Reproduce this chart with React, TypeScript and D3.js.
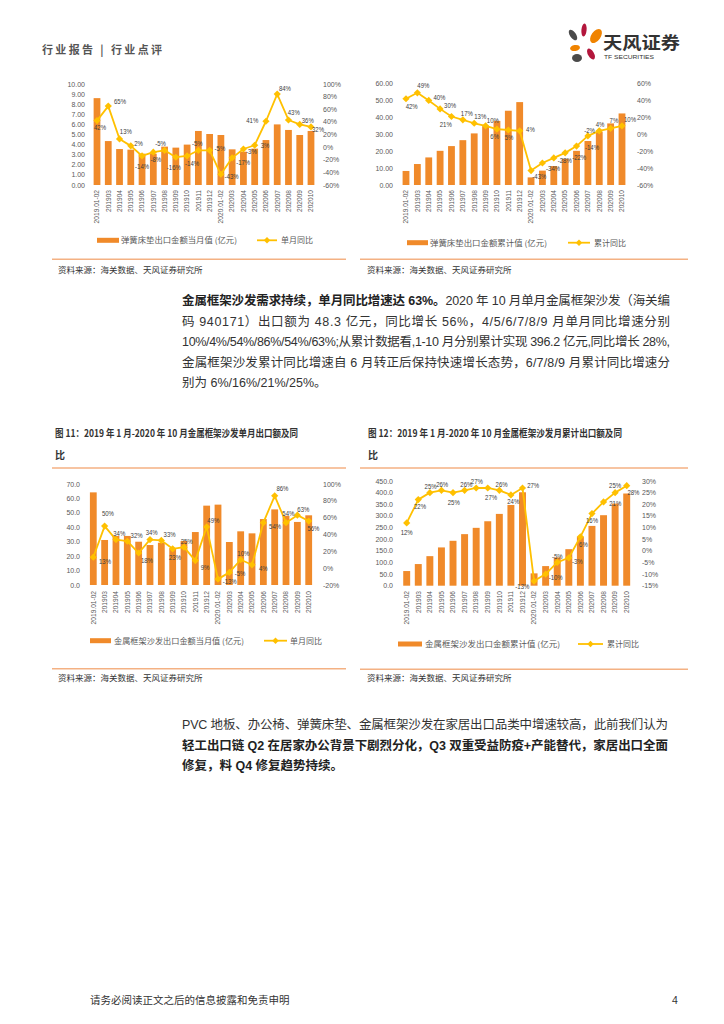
import React from "react";
import * as d3 from "d3";

const LAT = "'Liberation Sans', 'Noto Sans CJK SC', sans-serif";
const CJK = "'Noto Sans CJK SC', 'Liberation Sans', sans-serif";
const BAR = "#F08A2A";
const LINE = "#FFC000";
const SEP = "#F4B183";

// ---------- data ----------
const monthCats = [
  "2019.01-02", "201903", "201904", "201905", "201906", "201907", "201908", "201909", "201910", "201911", "201912",
  "2020.01-02", "202003", "202004", "202005", "202006", "202007", "202008", "202009", "202010",
];

// 弹簧床垫 当月值 (亿元) & 单月同比 (%)
const mattressMonthly = [8.6, 4.35, 3.56, 3.5, 3.1, 3.1, 3.8, 3.7, 4.0, 5.35, 5.05, 4.95, 3.53, 3.3, 3.6, 4.45, 6.0, 5.45, 4.95, 5.35];
const mattressMonthlyYoY = [42, 65, 13, 2, -14, -8, -5, -16, -14, -5, -5, -43, -17, -3, 3, 41, 84, 43, 36, 32];

// 弹簧床垫 累计值 (亿元) & 累计同比 (%)
const mattressCum = [8.3, 12.4, 16.3, 20.2, 23.0, 26.5, 30.5, 34.8, 37.9, 43.9, 49.0, 4.5, 8.5, 11.2, 15.5, 20.2, 26.0, 31.5, 36.4, 42.3];
const mattressCumYoY = [42, 49, 40, 30, 21, 17, 13, 10, 6, 5, 4, -43, -34, -28, -22, -14, -2, 4, 7, 10];

// 金属框架沙发 当月值 (亿元) & 单月同比 (%)
const sofaMonthly = [64.2, 31.2, 34.0, 34.0, 30.0, 27.7, 29.3, 25.4, 30.5, 36.7, 55.0, 55.7, 29.8, 37.2, 35.8, 45.7, 52.4, 48.0, 43.7, 48.3];
const sofaMonthlyYoY = [13, 50, 34, 32, 18, 34, 33, 23, 25, 9, 49, -13, -5, 10, 4, 54, 86, 54, 63, 56];

// 金属框架沙发 累计值 (亿元) & 累计同比 (%)
const sofaCum = [63, 93, 127, 164.5, 193, 221.6, 248.7, 277, 308.6, 347, 401.6, 53, 84.3, 121.5, 157, 210, 257, 303, 353, 396.2];
const sofaCumYoY = [12, 22, 25, 26, 25, 26, 27, 27, 26, 24, 27, -13, -10, -5, -3, 6, 16, 21, 25, 28];

const ticksMattressMonthly = d3.range(0, 10.001, 1);
const ticksMattressMonthlyYoY = d3.range(-60, 100.001, 20);
const ticksMattressCum = d3.range(0, 60.001, 10);
const ticksMattressCumYoY = d3.range(-60, 60.001, 20);
const ticksSofaMonthly = d3.range(0, 70.001, 10);
const ticksSofaMonthlyYoY = d3.range(-20, 100.001, 20);
const ticksSofaCum = d3.range(0, 450.001, 50);
const ticksSofaCumYoY = d3.range(-15, 30.001, 5);

const SOURCE = "资料来源：海关数据、天风证券研究所";

// data-label placement (label centre relative to its marker)
const labOffA: [number, number][] = [[3, 6.5], [11.7, -5], [6.3, -7], [7.7, -2.3], [0, 11], [2.5, 7.5], [-4, -6.7], [-2, 10], [5, 7.5], [-1, -6.5],
  [10.3, -1.7], [10.7, 2.3], [11, 4.3], [8, 2.7], [10.3, 0.7], [-13.7, -1], [7.7, -5.7], [5.3, -7.3], [8, -3.7], [7, 2.7]];
const labOffB: [number, number][] = [[5.7, 7.7], [6, -7.7], [10.7, -3.3], [10, -3.3], [-5.7, 8.3], [4, -6.7], [6, -6.7], [7.3, -5], [-2.3, 7.3], [0.7, 7],
  [10.7, -1.3], [8.3, 6], [10.7, 5], [11, 2.7], [14, 4.3], [15.5, 1.7], [1.7, -5.5], [0.7, -6], [3.3, -7.5], [8, -6]];
const labOffC: [number, number][] = [[11.7, 4.3], [3.3, -12.7], [3.3, -6.5], [9.3, -5.7], [8.3, 7.3], [1.7, -7], [8.3, -6], [2.3, 8.3], [2.7, -6], [9.7, 6.7],
  [6.7, -6.7], [11.7, 2.7], [10.7, 1], [2.7, -6.7], [11.3, 3.3], [11.7, 3.3], [7.7, -7.7], [2.3, -9], [6, -6], [4.7, 7.7]];
const labOffD: [number, number][] = [[0, 9.3], [1.7, 7.3], [0.7, -6], [0.7, -6], [0.7, 9.7], [1.7, -6], [0.7, -6], [3.3, 10], [2.3, -6], [2.3, 7],
  [10.7, -2], [-11.7, 5], [10, 3.3], [0, -6], [8.5, 3.3], [3, 8], [0, 7], [11.7, 1.7], [0, -6.7], [6.7, 6.7]];

// ---------- chart ----------
type Cfg = {
  bars: number[]; line: number[]; off: [number, number][];
  xRange: [number, number]; yRange: [number, number];
  lDom: [number, number]; lTicks: number[]; lFmt: (v: number) => string; lX: number;
  rDom: [number, number]; rTicks: number[]; rX: number;
  xLabTop: number;
  legY: number; legBar: [number, number]; legBarText: string; legBarTextX: [number, number];
  legLine: [number, number]; legLineText: string; legLineTextX: number;
  sepY: number; sepX: [number, number]; srcX: number; srcY: number;
};

function ComboChart({ c }: { c: Cfg }) {
  const x = d3.scalePoint<string>().domain(monthCats).range(c.xRange);
  const step = x.step();
  const bw = step * 0.6;
  const yL = d3.scaleLinear().domain(c.lDom).range(c.yRange);
  const yR = d3.scaleLinear().domain(c.rDom).range(c.yRange);
  const pts: [number, number][] = monthCats.map((k, i) => [x(k) as number, yR(c.line[i])]);
  const path = d3.line()(pts) || "";
  const dia = (r: number) => `M0,${-r}L${r},0L0,${r}L${-r},0Z`;
  return (
    <g>
      {monthCats.map((k, i) => (
        <rect key={"b" + i} x={(x(k) as number) - bw / 2} y={yL(c.bars[i])} width={bw}
          height={yL(c.lDom[0]) - yL(c.bars[i])} fill={BAR} />
      ))}
      <path d={path} fill="none" stroke={LINE} strokeWidth={1.8} strokeLinejoin="round" />
      {pts.map((p, i) => (
        <path key={"m" + i} d={dia(3.6)} transform={`translate(${p[0]},${p[1]})`} fill={LINE} />
      ))}
      {pts.map((p, i) => (
        <text key={"l" + i} transform={`translate(${p[0] + c.off[i][0]},${p[1] + c.off[i][1] + 2.5}) scale(0.86,1)`}
          textAnchor="middle" fontSize={7} fill="#404040" fontFamily={LAT}>
          {c.line[i] + "%"}
        </text>
      ))}
      {c.lTicks.map((t, i) => (
        <text key={"lt" + i} x={c.lX} y={yL(t) + 2.5} textAnchor="end" fontSize={7} fill="#595959" fontFamily={LAT}>
          {c.lFmt(t)}
        </text>
      ))}
      {c.rTicks.map((t, i) => (
        <text key={"rt" + i} x={c.rX} y={yR(t) + 2.5} textAnchor="start" fontSize={7} fill="#595959" fontFamily={LAT}>
          {t + "%"}
        </text>
      ))}
      {monthCats.map((k, i) => (
        <text key={"xl" + i} transform={`translate(${(x(k) as number) + 2.3},${c.xLabTop}) rotate(-90)`}
          textAnchor="end" fontSize={6.6} fill="#595959" fontFamily={LAT}>
          {k}
        </text>
      ))}
      {/* legend */}
      <rect x={c.legBar[0]} y={c.legY - 2.5} width={c.legBar[1] - c.legBar[0]} height={5} fill={BAR} />
      <text x={c.legBarTextX[0]} y={c.legY + 3} fontSize={8} fill="#595959" fontFamily={CJK}
        textLength={c.legBarTextX[1] - c.legBarTextX[0]} lengthAdjust="spacingAndGlyphs">{c.legBarText}</text>
      <line x1={c.legLine[0]} x2={c.legLine[1]} y1={c.legY} y2={c.legY} stroke={LINE} strokeWidth={1.8} />
      <path d={dia(3.2)} transform={`translate(${(c.legLine[0] + c.legLine[1]) / 2},${c.legY})`} fill={LINE} />
      <text x={c.legLineTextX} y={c.legY + 3} fontSize={8} fill="#595959" fontFamily={CJK}>{c.legLineText}</text>
      {/* separator + source */}
      <line x1={c.sepX[0]} x2={c.sepX[1]} y1={c.sepY} y2={c.sepY} stroke={SEP} strokeWidth={1.4} />
      <text x={c.srcX} y={c.srcY} fontSize={8.5} fill="#333" fontFamily={CJK}>{SOURCE}</text>
    </g>
  );
}

const f2 = (v: number) => v.toFixed(2);
const f1 = (v: number) => v.toFixed(1);

const cfgA: Cfg = {
  bars: mattressMonthly, line: mattressMonthlyYoY, off: labOffA,
  xRange: [97, 311], yRange: [185, 84],
  lDom: [0, 10], lTicks: ticksMattressMonthly, lFmt: f2, lX: 85,
  rDom: [-60, 100], rTicks: ticksMattressMonthlyYoY, rX: 323,
  xLabTop: 190,
  legY: 240.3, legBar: [97, 119], legBarText: "弹簧床垫出口金额当月值 (亿元)", legBarTextX: [121, 237],
  legLine: [257, 277], legLineText: "单月同比", legLineTextX: 281,
  sepY: 259.3, sepX: [52, 346], srcX: 58, srcY: 272.5,
};
const cfgB: Cfg = {
  bars: mattressCum, line: mattressCumYoY, off: labOffB,
  xRange: [406, 622], yRange: [185, 83.5],
  lDom: [0, 60], lTicks: ticksMattressCum, lFmt: f2, lX: 393,
  rDom: [-60, 60], rTicks: ticksMattressCumYoY, rX: 637,
  xLabTop: 190,
  legY: 242.7, legBar: [407, 428], legBarText: "弹簧床垫出口金额累计值 (亿元)", legBarTextX: [430, 547],
  legLine: [568, 590], legLineText: "累计同比", legLineTextX: 594,
  sepY: 259.3, sepX: [360, 688], srcX: 367, srcY: 272.5,
};
const cfgC: Cfg = {
  bars: sofaMonthly, line: sofaMonthlyYoY, off: labOffC,
  xRange: [93.3, 308.7], yRange: [585, 484],
  lDom: [0, 70], lTicks: ticksSofaMonthly, lFmt: f1, lX: 80,
  rDom: [-20, 100], rTicks: ticksSofaMonthlyYoY, rX: 323,
  xLabTop: 591,
  legY: 640.7, legBar: [90, 111], legBarText: "金属框架沙发出口金额当月值 (亿元)", legBarTextX: [114, 244],
  legLine: [264, 287], legLineText: "单月同比", legLineTextX: 290,
  sepY: 668.7, sepX: [52, 346], srcX: 58, srcY: 680.5,
};
const cfgD: Cfg = {
  bars: sofaCum, line: sofaCumYoY, off: labOffD,
  xRange: [406.7, 626.7], yRange: [585.7, 481],
  lDom: [0, 450], lTicks: ticksSofaCum, lFmt: f1, lX: 393,
  rDom: [-15, 30], rTicks: ticksSofaCumYoY, rX: 642,
  xLabTop: 591,
  legY: 644, legBar: [398, 422], legBarText: "金属框架沙发出口金额累计值 (亿元)", legBarTextX: [425, 560],
  legLine: [578, 603], legLineText: "累计同比", legLineTextX: 607,
  sepY: 669.3, sepX: [360, 688], srcX: 367, srcY: 680.5,
};

// ---------- page ----------
function Logo() {
  return (
    <g>
      <ellipse cx={573} cy={35} rx={3} ry={6} transform="rotate(-35 573 35)" fill="#4a4a4a" />
      <ellipse cx={584} cy={30} rx={2.6} ry={6.5} transform="rotate(5 584 30)" fill="#b3163c" />
      <ellipse cx={596} cy={36} rx={4.6} ry={8} transform="rotate(35 596 36)" fill="#f08300" />
      <ellipse cx={575} cy={48} rx={5} ry={3} transform="rotate(-10 575 48)" fill="#f08300" />
      <ellipse cx={591} cy={54} rx={3} ry={6} transform="rotate(-30 591 54)" fill="#b3163c" />
      <ellipse cx={577} cy={58} rx={5} ry={4} fill="#4a4a4a" />
      <text x={603} y={49} fontSize={17} fontWeight="bold" fill="#333" fontFamily={CJK}
        textLength={77} lengthAdjust="spacingAndGlyphs">天风证券</text>
      <text x={604} y={59} fontSize={5.5} fill="#333" fontFamily={LAT}
        textLength={50} lengthAdjust="spacingAndGlyphs">TF SECURITIES</text>
    </g>
  );
}

const para1 = [
  { y: 305, parts: [["b", "金属框架沙发需求持续，单月同比增速达 63%。"], ["n", "2020 年 10 月单月金属框架沙发（海关编"]] },
  { y: 325.5, parts: [["n", "码 940171）出口额为 48.3 亿元，同比增长 56%，4/5/6/7/8/9 月单月同比增速分别"]] },
  { y: 346, parts: [["n", "10%/4%/54%/86%/54%/63%;从累计数据看,1-10 月分别累计实现 396.2 亿元,同比增长 28%,"]] },
  { y: 366.5, parts: [["n", "金属框架沙发累计同比增速自 6 月转正后保持快速增长态势，6/7/8/9 月累计同比增速分"]] },
  { y: 387, parts: [["n", "别为 6%/16%/21%/25%。"]], free: true },
];
const para2 = [
  { y: 729, parts: [["n", "PVC 地板、办公椅、弹簧床垫、金属框架沙发在家居出口品类中增速较高，此前我们认为"]] },
  { y: 749.5, parts: [["b", "轻工出口链 Q2 在居家办公背景下剧烈分化，Q3 双重受益防疫+产能替代，家居出口全面"]] },
  { y: 770, parts: [["b", "修复，料 Q4 修复趋势持续。"]], free: true },
];

function Para({ lines, x0, x1 }: { lines: any[]; x0: number; x1: number }) {
  return (
    <g>
      {lines.map((ln, i) => (
        <text key={i} x={x0} y={ln.y} fontSize={12.5} fill="#333" fontFamily={LAT}
          {...(ln.free ? {} : { textLength: x1 - x0, lengthAdjust: "spacing" })}>
          {ln.parts.map((p: string[], j: number) => (
            <tspan key={j} fontWeight={p[0] === "b" ? "bold" : "normal"} fill={p[0] === "b" ? "#222" : "#333"}>{p[1]}</tspan>
          ))}
        </text>
      ))}
    </g>
  );
}

export default function App() {
  return (
    <div style={{ position: "absolute", left: 0, top: 0, width: 724, height: 1024, background: "#fff" }}>
      <svg width={724} height={1024} viewBox="0 0 724 1024" style={{ display: "block" }}>
        <rect width={724} height={1024} fill="#fff" />
        <text x={42} y={54} fontSize={11} fontWeight="bold" fill="#555" fontFamily={CJK}
          textLength={120} lengthAdjust="spacing">行业报告 | 行业点评</text>
        <Logo />
        <ComboChart c={cfgA} />
        <ComboChart c={cfgB} />
        <Para lines={para1} x0={182} x1={670} />
        <text x={55} y={437} fontSize={10} fontWeight="bold" fill="#333" fontFamily={CJK}
          textLength={243} lengthAdjust="spacingAndGlyphs">图 11：2019 年 1 月-2020 年 10 月金属框架沙发单月出口额及同</text>
        <text x={55} y={459} fontSize={10} fontWeight="bold" fill="#333" fontFamily={CJK}>比</text>
        <text x={368} y={437} fontSize={10} fontWeight="bold" fill="#333" fontFamily={CJK}
          textLength={254} lengthAdjust="spacingAndGlyphs">图 12：2019 年 1 月-2020 年 10 月金属框架沙发月累计出口额及同</text>
        <text x={368} y={459} fontSize={10} fontWeight="bold" fill="#333" fontFamily={CJK}>比</text>
        <line x1={52} x2={346} y1={468} y2={468} stroke={SEP} strokeWidth={1.5} />
        <line x1={360} x2={688} y1={468} y2={468} stroke={SEP} strokeWidth={1.5} />
        <ComboChart c={cfgC} />
        <ComboChart c={cfgD} />
        <Para lines={para2} x0={182} x1={668} />
        <text x={90} y={1004} fontSize={10.5} fill="#333" fontFamily={CJK}>请务必阅读正文之后的信息披露和免责申明</text>
        <text x={672} y={1004} fontSize={10.5} fill="#333" fontFamily={LAT}>4</text>
      </svg>
    </div>
  );
}
